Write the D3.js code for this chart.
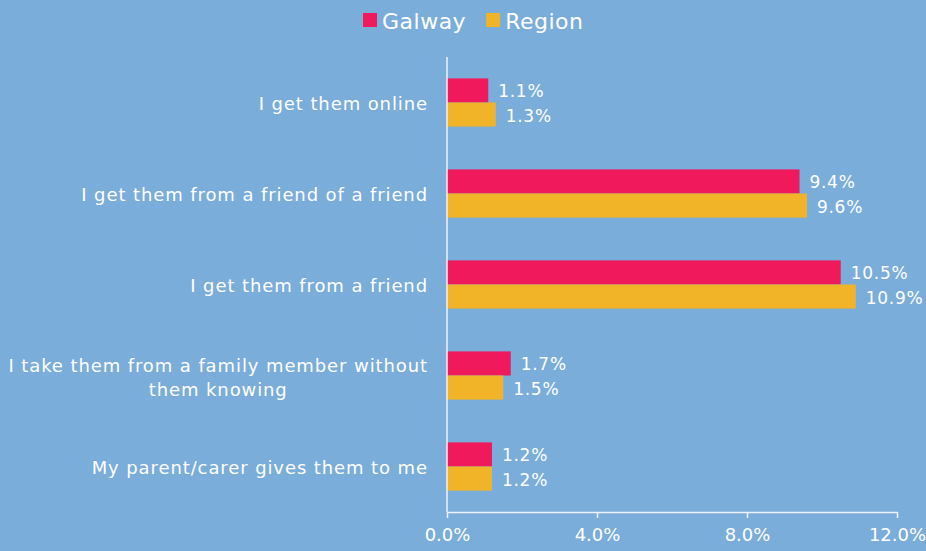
<!DOCTYPE html>
<html>
<head>
<meta charset="utf-8">
<script src="https://cdn.jsdelivr.net/npm/d3@7"></script>
<style>
  html, body { margin: 0; padding: 0; background: #7badda; }
  svg { display: block; font-family: "DejaVu Sans", sans-serif; }
</style>
</head>
<body>
<div id="container"></div>
<script>
let w = 926;
let h = 551;

let categories = [
  "I get them online",
  "I get them from a friend of a friend",
  "I get them from a friend",
  "I take them from a family member without|them knowing",
  "My parent/carer gives them to me"
];
let series = ["Galway", "Region"];
let galway = [1.1, 9.4, 10.5, 1.7, 1.2];
let region = [1.3, 9.6, 10.9, 1.5, 1.2];
let ticks = [0, 4, 8, 12];
let colors = ["#ef195b", "#f1b328"];

let values = [galway, region];

let viz = d3.select("#container")
  .append("svg")
  .attr("width", w)
  .attr("height", h)
  .style("background-color", "#7badda");

let x = d3.scaleLinear().domain([0, 12]).range([447, 897]);

let y0 = d3.scaleBand()
  .domain(categories)
  .range([57, 512])
  .paddingInner(0.47)
  .paddingOuter(0.235);

let y1 = d3.scaleBand()
  .domain(series)
  .range([0, y0.bandwidth()]);

// bars
let groups = viz.append("g").selectAll("g")
  .data(categories)
  .enter()
  .append("g")
  .attr("transform", d => "translate(0," + y0(d) + ")");

groups.selectAll("rect")
  .data((d, i) => series.map((s, j) => ({ s: s, v: values[j][i], c: colors[j] })))
  .enter()
  .append("rect")
  .attr("x", x(0))
  .attr("y", d => y1(d.s))
  .attr("width", d => x(d.v) - x(0))
  .attr("height", y1.bandwidth())
  .attr("fill", d => d.c);

groups.selectAll("text.val")
  .data((d, i) => series.map((s, j) => ({ s: s, v: values[j][i] })))
  .enter()
  .append("text")
  .attr("class", "val")
  .attr("x", d => x(d.v) + 10)
  .attr("y", d => y1(d.s) + y1.bandwidth() / 2 + 7)
  .attr("fill", "white")
  .attr("font-size", 17)
  .attr("letter-spacing", 0.7)
  .text(d => d.v.toFixed(1) + "%");

// category labels
let labels = viz.append("g");
function catText(tx, ty, anchor, str) {
  return labels.append("text")
    .attr("x", tx)
    .attr("y", ty)
    .attr("text-anchor", anchor)
    .attr("fill", "white")
    .attr("font-size", 18)
    .attr("letter-spacing", 0.9)
    .text(str);
}
categories.forEach(c => {
  let lines = c.split("|");
  let cy = y0(c) + y0.bandwidth() / 2;
  if (lines.length == 1) {
    catText(428, cy + 7, "end", lines[0]);
  } else {
    let t1 = catText(428, cy - 4, "end", lines[0]);
    let lw = t1.node().getComputedTextLength();
    catText(428 - lw / 2, cy + 20, "middle", lines[1]);
  }
});

// axes
let xAxis = viz.append("g")
  .attr("transform", "translate(0,512)")
  .call(d3.axisBottom(x).tickValues(ticks).tickSize(6).tickSizeOuter(0)
    .tickFormat(d => d.toFixed(1) + "%"));
xAxis.selectAll("path, line").attr("stroke", "#eef3f9").attr("stroke-width", 1.5);
xAxis.selectAll("text")
  .attr("fill", "white")
  .attr("font-size", 18)
  .attr("font-family", "DejaVu Sans, sans-serif")
  .attr("dy", "1.1em");

let yAxis = viz.append("g")
  .attr("transform", "translate(" + x(0) + ",0)")
  .call(d3.axisLeft(y0).tickSize(0).tickFormat(""));
yAxis.select("path").attr("stroke", "#eef3f9").attr("stroke-width", 1.5)
  .attr("d", "M0,57V512");

// legend
let legend = viz.append("g");
let lx = 363;
series.forEach((s, j) => {
  legend.append("rect")
    .attr("x", lx)
    .attr("y", 13)
    .attr("width", 14)
    .attr("height", 14)
    .attr("fill", colors[j]);
  let t = legend.append("text")
    .attr("x", lx + 19)
    .attr("y", 29)
    .attr("fill", "white")
    .attr("font-size", 22)
    .attr("letter-spacing", 0.5)
    .text(s);
  lx += 19 + t.node().getComputedTextLength() + 20;
});
</script>
</body>
</html>
